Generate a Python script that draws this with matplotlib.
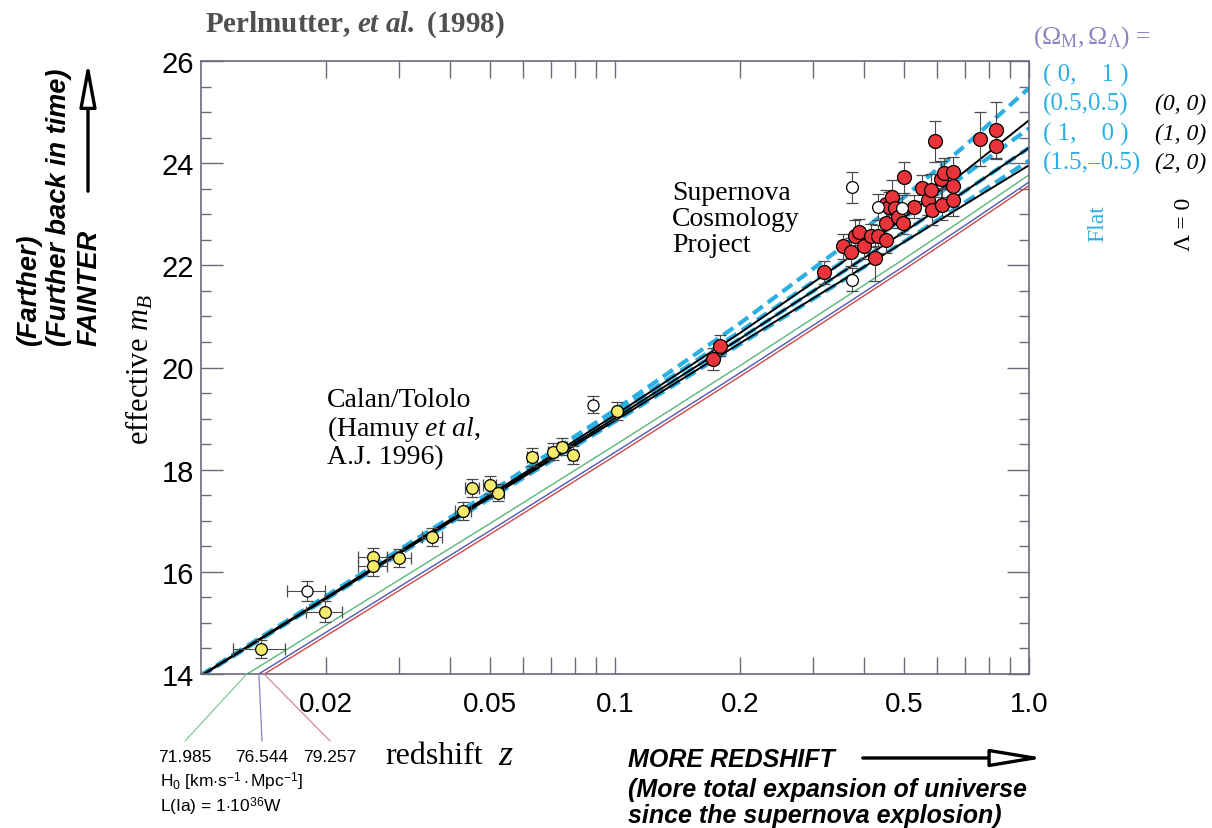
import matplotlib
matplotlib.use("Agg")
import matplotlib.pyplot as plt

plt.rcParams.update({
    "mathtext.fontset": "custom",
    "mathtext.rm": "Liberation Serif",
    "mathtext.it": "Liberation Serif:italic",
    "mathtext.bf": "Liberation Serif:bold",
    "mathtext.bfit": "Liberation Serif:bold:italic",
    "mathtext.sf": "Liberation Sans",
})

SERIF = "Liberation Serif"
SANS = ["Liberation Sans", "DejaVu Sans"]

# model curves at a few redshifts
model_z = [0.01, 0.05, 0.1, 0.2, 0.35, 0.5, 0.7, 1.0]
flat_0_1 = [13.98, 17.56, 19.17, 20.86, 22.33, 23.34, 24.34, 25.47]
flat_05_05 = [13.97, 17.52, 19.09, 20.70, 22.04, 22.93, 23.77, 24.68]
flat_1_0 = [13.97, 17.48, 19.01, 20.56, 21.84, 22.66, 23.45, 24.30]
flat_15_m05 = [13.96, 17.44, 18.94, 20.45, 21.67, 22.47, 23.23, 24.05]
open_0_0 = [13.97, 17.51, 19.07, 20.67, 22.03, 22.94, 23.84, 24.84]
open_1_0 = [13.97, 17.48, 19.01, 20.56, 21.84, 22.66, 23.45, 24.30]
open_2_0 = [13.96, 17.46, 18.96, 20.47, 21.68, 22.46, 23.19, 23.96]
h0_green = [13.44, 16.95, 18.48, 20.03, 21.31, 22.13, 22.92, 23.77]
h0_blue = [13.30, 16.81, 18.34, 19.89, 21.17, 21.99, 22.78, 23.63]
h0_red = [13.23, 16.74, 18.27, 19.82, 21.10, 21.92, 22.71, 23.56]
h0_hit_z = [0.0129, 0.0138, 0.0142]
h0_labels = ["71.985", "76.544", "79.257"]

# Calan/Tololo supernovae
ct_z = [0.01396, 0.01995, 0.02603, 0.02603, 0.03008, 0.03614, 0.04294, 0.04513,
        0.04987, 0.05222, 0.06314, 0.07074, 0.07467, 0.07906, 0.1011]
ct_m = [14.49, 15.22, 16.29, 16.12, 16.27, 16.68, 17.19, 17.64,
        17.70, 17.55, 18.25, 18.35, 18.45, 18.29, 19.15]
ct_dm = [0.17, 0.2, 0.18, 0.2, 0.18, 0.17, 0.18, 0.17,
         0.18, 0.17, 0.17, 0.17, 0.17, 0.17, 0.17]
ct_dz = [0.0020, 0.0020, 0.0021, 0.0021, 0.0020, 0.0020, 0.0019, 0.0018,
         0.0018, 0.0018, 0.0017, 0.0017, 0.0017, 0.0017, 0.0017]
ct_open_z = [0.01803, 0.08838]
ct_open_m = [15.63, 19.27]
ct_open_dm = [0.2, 0.17]
ct_open_dz = [0.0019, 0.0]

# Supernova Cosmology Project
scp_z = [0.1722, 0.1796, 0.3203, 0.3548, 0.3716, 0.3799, 0.3890, 0.4002, 0.4154,
         0.4255, 0.4311, 0.4515, 0.4515, 0.4515, 0.4598, 0.4668, 0.4754, 0.4817,
         0.4974, 0.5002, 0.5267, 0.5506, 0.5714, 0.5800, 0.5822, 0.5931, 0.6138,
         0.6218, 0.6173, 0.6566, 0.6566, 0.6566, 0.7628, 0.8324, 0.8324]
scp_m = [20.17, 20.43, 21.86, 22.37, 22.26, 22.58, 22.65, 22.37, 22.58,
         22.14, 22.58, 22.50, 22.83, 23.20, 23.14, 23.33, 23.12, 22.94,
         22.83, 23.72, 23.15, 23.51, 23.28, 23.48, 23.08, 24.43, 23.69,
         23.81, 23.19, 23.83, 23.55, 23.27, 24.47, 24.65, 24.33]
scp_dm = [0.22, 0.2, 0.22, 0.25, 0.27, 0.3, 0.25, 0.25, 0.22,
          0.45, 0.2, 0.25, 0.3, 0.28, 0.3, 0.35, 0.2, 0.2,
          0.22, 0.3, 0.22, 0.25, 0.3, 0.3, 0.3, 0.4, 0.35,
          0.3, 0.3, 0.3, 0.3, 0.3, 0.53, 0.55, 0.25]
scp_open_z = [0.3736, 0.3736, 0.4311, 0.4925]
scp_open_m = [21.72, 23.53, 23.14, 23.12]
scp_open_dm = [0.22, 0.3, 0.25, 0.25]

x_ticks = [0.02, 0.03, 0.04, 0.05, 0.06, 0.07, 0.08, 0.09, 0.1,
           0.2, 0.3, 0.4, 0.5, 0.6, 0.7, 0.8, 0.9, 1.0]
x_tick_labels = ["0.02", "", "", "0.05", "", "", "", "", "0.1",
                 "0.2", "", "", "0.5", "", "", "", "", "1.0"]

W, H = 1212, 829


def fx(px):
    return px / W


def fy(py):
    return 1 - py / H


fig = plt.figure(figsize=(W / 100, H / 100), dpi=100)
ax = fig.add_axes([fx(201), fy(675), fx(1029) - fx(201), fy(62) - fy(675)])

CYAN = "#2cb0e4"
GRID = "#6a6a7a"

# thin Hubble-constant lines
ax.plot(model_z, h0_green, color="#58b878", lw=1.0)
ax.plot(model_z, h0_blue, color="#5656b0", lw=1.0)
ax.plot(model_z, h0_red, color="#d04848", lw=1.0)

# flat universe (dashed cyan)
for series in [flat_0_1, flat_05_05, flat_1_0, flat_15_m05]:
    ax.plot(model_z, series, color=CYAN, lw=3.0, dashes=(2.9, 1.5))

# Lambda = 0 (black)
for series in [open_0_0, open_1_0, open_2_0]:
    ax.plot(model_z, series, color="black", lw=1.4)

err_kw = dict(ecolor="#4a4a4a", elinewidth=0.8, capsize=4, capthick=0.8,
              mec="black", mew=0.9, ls="none", zorder=5)
ax.errorbar(ct_z, ct_m, yerr=ct_dm, xerr=ct_dz, fmt="o", ms=8.5, mfc="#f4ea6c", **err_kw)
ax.errorbar(ct_open_z, ct_open_m, yerr=ct_open_dm, xerr=ct_open_dz, fmt="o", ms=8,
            mfc="white", **err_kw)
ax.errorbar(scp_z, scp_m, yerr=scp_dm, fmt="o", ms=10, mfc="#e8343a", **err_kw)
ax.errorbar(scp_open_z, scp_open_m, yerr=scp_open_dm, fmt="o", ms=8.5, mfc="white", **err_kw)

ax.set_xscale("log")
ax.set_xlim(0.01, 1.0)
ax.set_ylim(14, 26)
ax.set_xticks(x_ticks, labels=x_tick_labels)
ax.xaxis.set_minor_locator(matplotlib.ticker.NullLocator())
ax.set_yticks([14, 16, 18, 20, 22, 24, 26])
ax.set_yticks([v / 2 for v in range(28, 52)], minor=True)
ax.tick_params(axis="x", which="major", direction="in", length=12, width=1.0,
               color=GRID, top=True, pad=12, labelsize=20)
ax.tick_params(axis="y", which="major", direction="in", length=16, width=1.0,
               color=GRID, right=True, pad=5, labelsize=21)
ax.tick_params(axis="y", which="minor", direction="in", length=7, width=1.0,
               color=GRID, right=True)
for lab in ax.get_xticklabels() + ax.get_yticklabels():
    lab.set_family(SANS)
for sp in ax.spines.values():
    sp.set_color(GRID)
    sp.set_linewidth(1.2)

# in-plot labels
fig.text(fx(672), fy(181), "Supernova\nCosmology\nProject", family=SERIF, fontsize=20,
         va="top", linespacing=1.05)
fig.text(fx(327), fy(388), "Calan/Tololo\n(Hamuy $\\mathit{et\\ al}$,\nA.J. 1996)",
         family=SERIF, fontsize=20, va="top", linespacing=1.05)

# title
fig.text(fx(205), fy(25), "Perlmutter, $\\mathbfit{et\\ al.}$ (1998)", family=SERIF,
         fontweight="bold", fontsize=21, color="#505050", va="center")

# axis labels
fig.text(fx(140), fy(370), "effective $m_B$", family=SERIF, fontsize=22, rotation=90,
         ha="center", va="center")
fig.text(fx(385), fy(757), "redshift", family=SERIF, fontsize=23, va="center")
fig.text(fx(498), fy(757), "$z$", family=SERIF, fontsize=26, va="center")

# legend on the right
fig.text(fx(1033), fy(38), "$(\\Omega_{\\rm M},\\Omega_\\Lambda)$ =", family=SERIF,
         fontsize=18.5, color="#8a86c2", va="center")
flat_labels = ["( 0,    1 )", "(0.5,0.5)", "( 1,    0 )", "(1.5,\u20130.5)"]
label_rows = [75, 104, 134, 163]
for lab, row in zip(flat_labels, label_rows):
    fig.text(fx(1043), fy(row), lab, family=SERIF, fontsize=18, color=CYAN, va="center")
for lab, row in zip(["(0, 0)", "(1, 0)", "(2, 0)"], label_rows[1:]):
    fig.text(fx(1155), fy(row), lab, family=SERIF, style="italic", fontsize=17,
             va="center")
fig.text(fx(1098), fy(224), "Flat", family=SERIF, fontsize=17, color=CYAN, rotation=90,
         ha="center", va="center")
fig.text(fx(1185), fy(224), "\u039b = 0", family=SERIF, fontsize=17, rotation=90,
         ha="center", va="center")

# left "fainter" annotation
fig.text(fx(59), fy(346), "(Farther)\n(Further back in time)\nFAINTER", family=SANS,
         fontweight="bold", style="italic", fontsize=19.5, rotation=90, ha="center",
         va="bottom", multialignment="left", linespacing=1.22)
fig.add_artist(matplotlib.patches.FancyArrowPatch(
    (fx(88), fy(195)), (fx(88), fy(60)), transform=fig.transFigure,
    arrowstyle="-|>,head_length=1.5,head_width=0.28", mutation_scale=18,
    lw=2.4, color="black", fc="white"))

# bottom-right redshift annotation
fig.text(fx(628), fy(760), "MORE REDSHIFT", family=SANS, fontweight="bold",
         style="italic", fontsize=18, va="center")
fig.text(fx(628), fy(803), "(More total expansion of universe\nsince the supernova explosion)",
         family=SANS, fontweight="bold", style="italic", fontsize=18, va="center",
         linespacing=1.15)
fig.add_artist(matplotlib.patches.FancyArrowPatch(
    (fx(860), fy(759)), (fx(1047), fy(759)), transform=fig.transFigure,
    arrowstyle="-|>,head_length=1.8,head_width=0.3", mutation_scale=18,
    lw=2.4, color="black", fc="white"))

# Hubble constant leader lines and labels
leader_colors = ["#86c99a", "#8484c4", "#d48a96"]
label_x = [185, 262, 330]
for z0, lab, col, lx in zip(h0_hit_z, h0_labels, leader_colors, label_x):
    ax.annotate("", xy=(z0, 14), xycoords="data", xytext=(fx(lx), fy(742)),
                textcoords="figure fraction",
                arrowprops=dict(arrowstyle="-", color=col, lw=0.9, shrinkA=0, shrinkB=0))
    fig.text(fx(lx), fy(758), lab, family=SANS, fontsize=12.5, ha="center", va="center")
fig.text(fx(160), fy(782),
         "H$_\\mathsf{0}$ [km$\\cdot$s$^{\\mathsf{-1}}\\cdot$Mpc$^{\\mathsf{-1}}$]",
         family=SANS, fontsize=12.5, va="center")
fig.text(fx(160), fy(807), "L(Ia) = 1$\\cdot$10$^{\\mathsf{36}}$W", family=SANS,
         fontsize=12.5, va="center")

fig.savefig("out.png", dpi=100)
